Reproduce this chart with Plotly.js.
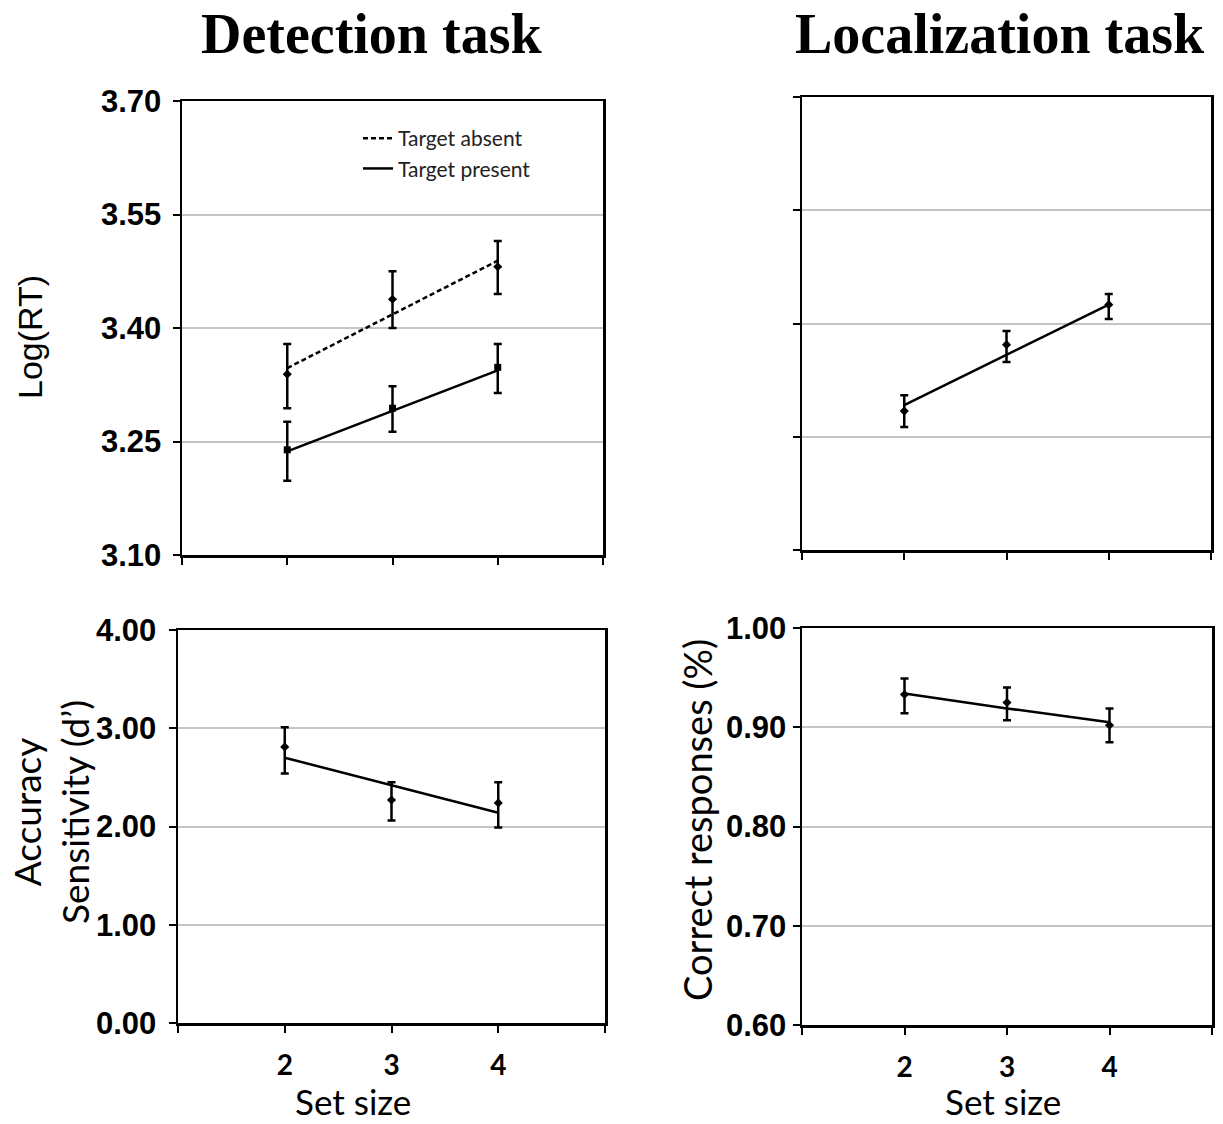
<!DOCTYPE html>
<html>
<head>
<meta charset="utf-8">
<script src="https://cdn.plot.ly/plotly-3.0.1.min.js"></script>
<style>html,body{margin:0;padding:0;background:#fff;}#chart{width:1223px;height:1124px;}</style>
</head>
<body>
<div id="chart"></div>
<script>
// ---- Data ----
const setSize = [2, 3, 4];
const xTickVals = [1, 2, 3, 4, 5];
const xTickText = ["", "2", "3", "4", ""];

// Detection task: Log(RT)
const detAbsentMean  = [3.339, 3.438, 3.481];
const detAbsentUpper = [3.379, 3.475, 3.515];
const detAbsentLower = [3.294, 3.400, 3.445];
const detAbsentTrend = [3.347, 3.418, 3.489];

const detPresentMean  = [3.239, 3.294, 3.348];
const detPresentUpper = [3.276, 3.323, 3.379];
const detPresentLower = [3.198, 3.263, 3.314];
const detPresentTrend = [3.237, 3.290, 3.344];

// Localization task: Log(RT)
const locRTMean  = [3.284, 3.372, 3.425];
const locRTUpper = [3.305, 3.390, 3.439];
const locRTLower = [3.263, 3.349, 3.406];
const locRTTrend = [3.292, 3.358, 3.425];

// Detection task: d'
const detDMean  = [2.81, 2.27, 2.24];
const detDUpper = [3.01, 2.45, 2.45];
const detDLower = [2.54, 2.06, 1.99];
const detDTrend = [2.70, 2.42, 2.14];

// Localization task: correct responses
const locAccMean  = [0.933, 0.925, 0.902];
const locAccUpper = [0.949, 0.940, 0.919];
const locAccLower = [0.914, 0.907, 0.885];
const locAccTrend = [0.934, 0.919, 0.905];

const legendNames = ["Target absent", "Target present"];

// ---- Helpers ----
function diff(a, b) { return a.map((v, i) => Math.round((v - b[i]) * 10000) / 10000); }

function pointTrace(xa, ya, mean, up, lo, symbol) {
  return {
    x: setSize, y: mean, xaxis: xa, yaxis: ya, type: 'scatter', mode: 'markers',
    showlegend: false, hoverinfo: 'skip',
    marker: {color: '#000', size: 7, symbol: symbol},
    error_y: {type: 'data', symmetric: false, array: diff(up, mean), arrayminus: diff(mean, lo),
              color: '#000', thickness: 2.5, width: 4}
  };
}
function lineTrace(xa, ya, vals, dash, name, showleg) {
  return {
    x: setSize, y: vals, xaxis: xa, yaxis: ya, type: 'scatter', mode: 'lines',
    name: name || '', showlegend: !!showleg, hoverinfo: 'skip',
    line: {color: '#000', width: 2.5, dash: dash || 'solid'}
  };
}

const traces = [
  lineTrace('x', 'y', detAbsentTrend, '5px,3px', legendNames[0], true),
  lineTrace('x', 'y', detPresentTrend, 'solid', legendNames[1], true),
  pointTrace('x', 'y', detAbsentMean, detAbsentUpper, detAbsentLower, 'diamond'),
  pointTrace('x', 'y', detPresentMean, detPresentUpper, detPresentLower, 'square'),
  lineTrace('x2', 'y2', locRTTrend),
  pointTrace('x2', 'y2', locRTMean, locRTUpper, locRTLower, 'diamond'),
  lineTrace('x3', 'y3', detDTrend),
  pointTrace('x3', 'y3', detDMean, detDUpper, detDLower, 'diamond'),
  lineTrace('x4', 'y4', locAccTrend),
  pointTrace('x4', 'y4', locAccMean, locAccUpper, locAccLower, 'diamond')
];

const W = 1223, H = 1124;
function px(x) { return x / W; }
function py(y) { return 1 - y / H; }

function xAxis(l, r, labels, anchor) {
  return {
    domain: [px(l), px(r)], range: [1, 5], anchor: anchor,
    tickmode: 'array', tickvals: xTickVals, ticktext: labels ? xTickText : ["", "", "", "", ""],
    ticks: 'outside', ticklen: 7, tickwidth: 2, tickcolor: '#000',
    showline: true, mirror: true, linecolor: '#000', linewidth: 2.5,
    showgrid: false, zeroline: false, fixedrange: true,
    ticklabelstandoff: 9,
    tickfont: {family: 'Lato, sans-serif', size: 28, color: '#000', weight: 'bold'}
  };
}
function yAxis(t, b, range, dtick, labels, anchor, standoff) {
  return {
    domain: [py(b), py(t)], range: range, anchor: anchor,
    tick0: range[0], dtick: dtick, tickformat: '.2f', showticklabels: labels,
    ticks: 'outside', ticklen: 7, tickwidth: 2, tickcolor: '#000',
    showline: true, mirror: true, linecolor: '#000', linewidth: 2.5,
    showgrid: true, gridcolor: '#c4c4c4', gridwidth: 2, zeroline: false, fixedrange: true,
    ticklabelstandoff: standoff,
    tickfont: {family: 'Liberation Sans, Arial, sans-serif', size: 31, color: '#000', weight: 'bold'}
  };
}

const layout = {
  width: W, height: H,
  margin: {l: 0, r: 0, t: 0, b: 0},
  paper_bgcolor: '#fff', plot_bgcolor: '#fff',
  showlegend: true,
  legend: {
    x: px(358), y: py(118), xanchor: 'left', yanchor: 'top',
    bgcolor: 'rgba(0,0,0,0)', borderwidth: 0, traceorder: 'normal',
    font: {family: 'Lato, sans-serif', size: 21, color: '#222'},
    itemwidth: 30, tracegroupgap: 0
  },
  xaxis: xAxis(182, 603, false, 'y'),
  yaxis: yAxis(101, 555, [3.10, 3.70], 0.15, true, 'x', 5),
  xaxis2: xAxis(802, 1211, false, 'y2'),
  yaxis2: yAxis(97, 550, [3.10, 3.70], 0.15, false, 'x2', 5),
  xaxis3: xAxis(178, 605, true, 'y3'),
  yaxis3: yAxis(630, 1023, [0, 4], 1, true, 'x3', 6),
  xaxis4: xAxis(802, 1212, true, 'y4'),
  yaxis4: yAxis(628, 1025, [0.6, 1.0], 0.1, true, 'x4', 0),
  annotations: [
    {text: 'Detection task', x: px(371), y: py(34), xref: 'paper', yref: 'paper', showarrow: false,
     xanchor: 'center', yanchor: 'middle',
     font: {family: 'Liberation Serif, serif', size: 56, color: '#000', weight: 'bold'}},
    {text: 'Localization task', x: px(1000), y: py(34), xref: 'paper', yref: 'paper', showarrow: false,
     xanchor: 'center', yanchor: 'middle',
     font: {family: 'Liberation Serif, serif', size: 56, color: '#000', weight: 'bold'}},
    {text: 'Log(RT)', x: px(30), y: py(337), xref: 'paper', yref: 'paper', showarrow: false,
     textangle: -90, xanchor: 'center', yanchor: 'middle',
     font: {family: 'Liberation Sans, Arial, sans-serif', size: 34, color: '#000'}},
    {text: 'Accuracy<br>Sensitivity (d’)', x: px(50), y: py(812), xref: 'paper', yref: 'paper', showarrow: false,
     textangle: -90, xanchor: 'center', yanchor: 'middle', align: 'center',
     font: {family: 'Lato, sans-serif', size: 37, color: '#000'}},
    {text: 'Correct responses (%)', x: px(697), y: py(820), xref: 'paper', yref: 'paper', showarrow: false,
     textangle: -90, xanchor: 'center', yanchor: 'middle',
     font: {family: 'Lato, sans-serif', size: 38, color: '#000'}},
    {text: 'Set size', x: px(353), y: py(1101), xref: 'paper', yref: 'paper', showarrow: false,
     xanchor: 'center', yanchor: 'middle',
     font: {family: 'Lato, sans-serif', size: 35, color: '#000'}},
    {text: 'Set size', x: px(1003), y: py(1101), xref: 'paper', yref: 'paper', showarrow: false,
     xanchor: 'center', yanchor: 'middle',
     font: {family: 'Lato, sans-serif', size: 35, color: '#000'}}
  ]
};

Plotly.newPlot('chart', traces, layout, {staticPlot: true, displayModeBar: false});
</script>
</body>
</html>
